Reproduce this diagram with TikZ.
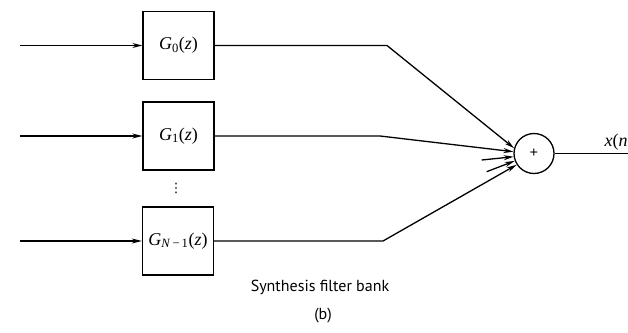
\documentclass[tikz,border=0pt]{standalone}
\usepackage{fontspec}
\setmainfont{Liberation Serif}
\newfontfamily\capfont{PT Sans}
\newfontfamily\symfont{DejaVu Sans}
\usetikzlibrary{arrows.meta}
\begin{document}
\begin{tikzpicture}[x=1pt,y=-1pt,line width=1.3pt,
  filt/.style={draw,minimum width=71pt,minimum height=68pt,inner sep=0pt,font=\fontsize{18}{20}\selectfont},
  arr/.style={-{Stealth[length=10pt,width=5pt]}},
  adder/.style={draw,circle,minimum size=40pt,inner sep=0pt,font=\fontsize{15}{17}\selectfont\bfseries},
  lbl/.style={font=\fontsize{18}{20}\selectfont,inner sep=0pt},
  captxt/.style={font=\capfont\fontsize{16}{19}\selectfont,inner sep=0pt}]
\useasboundingbox (0,0) rectangle (628,332);
% filters
\node[filt] (g0) at (178.5,45.5) {\textit{G}\textsubscript{0}(\textit{z})};
\node[filt] (g1) at (178.5,136) {\textit{G}\textsubscript{1}(\textit{z})};
\node[filt] (gn) at (178,241) {\textit{G}\textsubscript{\textit{N}\,−\,1}(\textit{z})};
\node[inner sep=0pt,font=\symfont\fontsize{13}{15}\selectfont] (dots) at (176,188) {⋮};
% adder
\node[adder] (sum) at (534,153.5) {+};
% inputs
\coordinate (i0) at (20,45.5);
\coordinate (i1) at (20,136);
\coordinate (in) at (20,241);
\draw[arr] (i0) -- (g0);
\draw[arr] (i1) -- (g1);
\draw[arr] (in) -- (gn);
% outputs to adder
\coordinate (b0) at (387,45.5);
\coordinate (b1) at (380,136);
\coordinate (bn) at (383,241);
\draw[arr] (g0) -- (b0) -- (sum.165);
\draw[arr] (g1) -- (b1) -- (sum.175);
\draw[arr] (gn) -- (bn) -- (sum.213);
\coordinate (s1) at (481.7,160);
\coordinate (s2) at (486.7,171.7);
\draw[arr] (s1) -- (sum.189);
\draw[arr] (s2) -- (sum.201);
% output
\coordinate (o) at (628,153.5);
\draw (sum) -- (o);
\node[lbl,anchor=base west] (xn) at (604,146) {\textit{x}(\textit{n}};
% caption
\node[captxt] (cap) at (320,287) {Synthesis filter bank};
\node[captxt] (capb) at (323,316) {(b)};
\end{tikzpicture}
\end{document}
